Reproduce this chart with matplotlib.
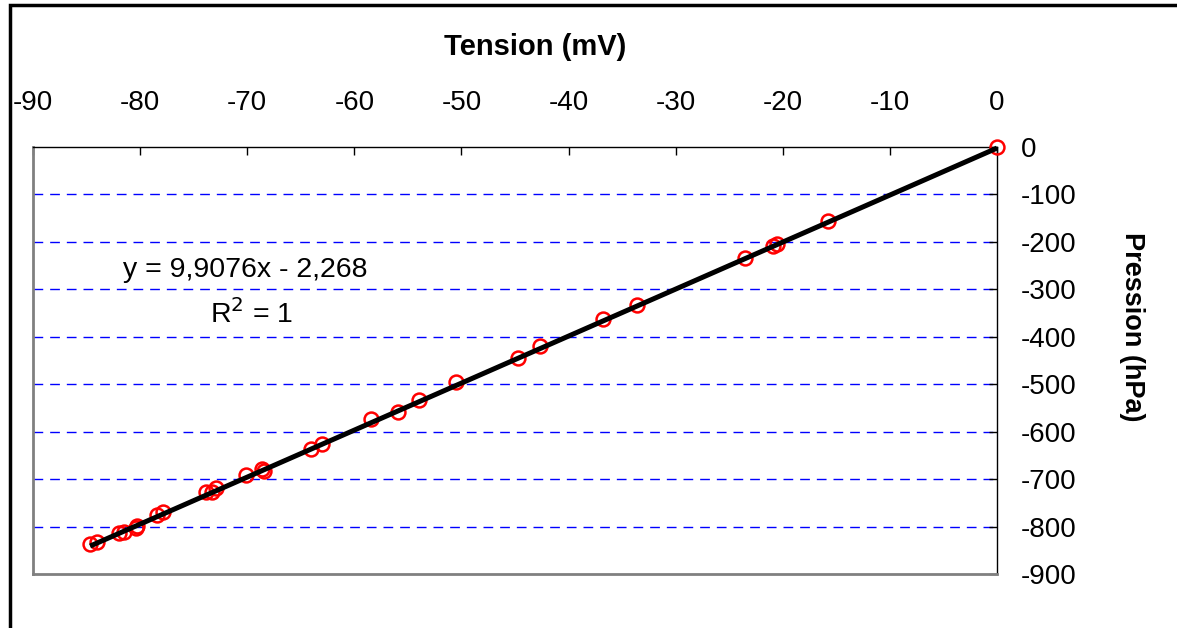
import numpy as np
import matplotlib.pyplot as plt
from matplotlib.patches import Rectangle

plt.rcParams["font.family"] = ["Liberation Sans", "DejaVu Sans"]

tension = [-84.67, -83.99, -81.96, -81.50, -80.40, -80.33, -78.44, -77.82,
           -73.86, -73.27, -72.93, -70.07, -68.66, -68.48, -64.07, -63.02,
           -58.44, -55.95, -53.93, -50.50, -44.74, -42.71, -36.79, -33.62,
           -23.55, -20.91, -20.53, -15.77, 0.0]
pression = [-837, -832, -813, -811, -802, -799, -776, -770,
            -728, -727, -719, -691, -679, -682, -637, -626,
            -574, -559, -533, -496, -445, -420, -363, -332,
            -233, -209, -205, -157, 0]

# Droite de tendance affichee
pente = 9.9076
origine = -2.268
x_ticks = list(range(-90, 1, 10))
y_ticks = list(range(-900, 1, 100))

fig = plt.figure(figsize=(11.77, 6.28), dpi=100)
ax = fig.add_axes([33 / 1177, 1 - 574 / 628, 964 / 1177, 427 / 628])

ax.plot(tension, pression, linestyle="none", marker="o", markersize=10,
        markerfacecolor="none", markeredgecolor="#ff0000", markeredgewidth=1.8,
        zorder=3, clip_on=False)
xs = np.array([min(tension), max(tension)])
ax.plot(xs, pente * xs + origine, color="black", linewidth=3.6, zorder=4,
        solid_capstyle="butt", clip_on=False)

ax.set_xlim(-90, 0)
ax.set_ylim(-900, 0)
ax.set_xticks(x_ticks)
ax.set_yticks(y_ticks)
ax.set_xticklabels([str(v) for v in x_ticks])
ax.set_yticklabels([str(v) for v in y_ticks])

ax.xaxis.tick_top()
ax.yaxis.tick_right()
ax.tick_params(axis="x", direction="in", length=6, width=1, pad=22,
               labelsize=20)
ax.tick_params(axis="y", direction="in", length=6, width=1, pad=17,
               labelsize=20)
for lab in ax.get_yticklabels():
    lab.set_horizontalalignment("left")

for v in y_ticks[1:-1]:
    ax.axhline(v, color="#0000ff", linewidth=1, linestyle=(0, (7, 5)),
               zorder=1)

for side in ["left", "bottom"]:
    ax.spines[side].set_color("#808080")
    ax.spines[side].set_linewidth(2)
for side in ["top", "right"]:
    ax.spines[side].set_color("black")
    ax.spines[side].set_linewidth(1)

fig.text(535 / 1177, 1 - 47 / 628, "Tension (mV)", ha="center", va="center",
         fontsize=21, fontweight="bold")
fig.text(1132 / 1177, 1 - 327 / 628, "Pression (hPa)", ha="center",
         va="center", rotation=270, fontsize=19.5, fontweight="bold")

fig.text(245 / 1177, 1 - 270 / 628, "y = 9,9076x - 2,268", ha="center",
         va="center", fontsize=20.5)
fig.text(252 / 1177, 1 - 314 / 628, r"R$^2$ = 1", ha="center", va="center",
         fontsize=20.5)

# cadre exterieur
fig.patches.append(Rectangle((9.5 / 1177, -0.1), 1.2, 1 - 5.5 / 628 + 0.1,
                             transform=fig.transFigure, fill=False,
                             edgecolor="black", linewidth=2.5))

fig.savefig("out.png", dpi=100)
